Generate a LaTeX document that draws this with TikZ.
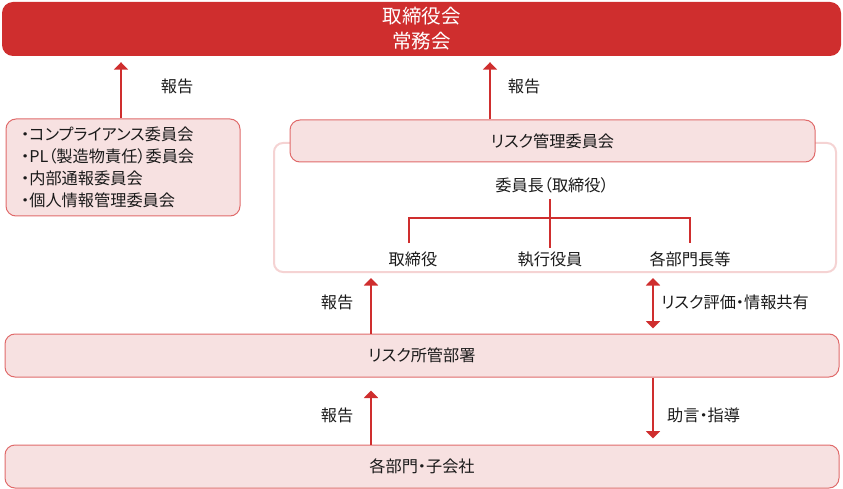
\documentclass[tikz,border=0pt]{standalone}
\usepackage{fontspec}
\setmainfont{Noto Sans CJK JP}[RawFeature=+palt]
\usetikzlibrary{arrows.meta}
\definecolor{dred}{HTML}{CF2E2E}
\definecolor{pinkfill}{HTML}{F7E1E1}
\definecolor{pinkline}{HTML}{E06B6B}
\definecolor{frameline}{HTML}{F5D3D3}
\definecolor{txt}{HTML}{1A1A1A}
\tikzset{
  lbl/.style={font=\fontsize{16.2}{19}\selectfont, text=txt, inner sep=0pt},
  pinkbox/.style={draw=pinkline, line width=1pt, fill=pinkfill, rounded corners=10pt, inner sep=0pt},
  arr/.style={draw=dred, line width=2.6pt, -{Triangle[width=14pt,length=7.5pt]}},
  darr/.style={draw=dred, line width=2.6pt, {Triangle[width=14pt,length=7.5pt]}-{Triangle[width=14pt,length=7.5pt]}},
  treeline/.style={draw=dred, line width=2.8pt}
}
\begin{document}
\begin{tikzpicture}[x=1pt,y=-1pt]
\useasboundingbox (0,0) rectangle (843,489);
% top box
\node[fill=dred, rounded corners=11pt, minimum width=839pt, minimum height=54pt, inner sep=0pt,
      text=white, align=center, font=\fontsize{19.5}{25}\selectfont] (top) at (421.5,29) {取締役会\\常務会};
% list box
\node[pinkbox, minimum width=234pt, minimum height=97pt] (list) at (123,167.5) {};
\node[lbl, anchor=north west, align=left, font=\fontsize{16.2}{22}\selectfont] (listtxt) at (21,126.5)
  {・コンプライアンス委員会\\・PL（製造物責任）委員会\\・内部通報委員会\\・個人情報管理委員会};
% frame
\node[draw=frameline, line width=2pt, fill=white, rounded corners=9pt, minimum width=562pt, minimum height=129pt, inner sep=0pt] (frame) at (555,207.5) {};
% risk management committee
\node[pinkbox, minimum width=525pt, minimum height=42pt] (rm) at (552.5,141) {};
\node[lbl] (rmtxt) at (552.5,141) {リスク管理委員会};
% chair and tree
\node[lbl] (chair) at (552,185) {委員長（取締役）};
\node[lbl] (m1) at (413,259) {取締役};
\node[lbl] (m2) at (550,259) {執行役員};
\node[lbl] (m3) at (690,259) {各部門長等};
\coordinate (stemtop) at (550,199);
\coordinate (stembot) at (550,248);
\coordinate (b1) at (409,243);
\coordinate (b3) at (690,243);
\coordinate (bar) at (550,218);
\draw[treeline] (stemtop) -- (stembot);
\draw[treeline] (b1) |- (bar) -| (b3);
% risk dept
\node[pinkbox, minimum width=834pt, minimum height=43pt] (rdept) at (422,355.5) {};
\node[lbl] (rdtxt) at (422,355.5) {リスク所管部署};
% bottom
\node[pinkbox, minimum width=834pt, minimum height=43pt] (bot) at (422,466.5) {};
\node[lbl] (bottxt) at (422,466.5) {各部門・子会社};
% arrows
\draw[arr, shorten >=6pt] ([xshift=-2pt]list.north) -- ([xshift=-2pt]list.north |- top.south);
\node[lbl] (r1) at (177,86) {報告};
\draw[arr, shorten >=6pt] ([xshift=-62.5pt]rm.north) -- ([xshift=-62.5pt]rm.north |- top.south);
\node[lbl] (r2) at (524,86) {報告};
\draw[arr, shorten >=5pt] (rdept.north -| 371,0) -- (frame.south -| 371,0);
\node[lbl] (r3) at (337,302) {報告};
\draw[darr, shorten >=5pt, shorten <=5pt] (frame.south -| 653,0) -- (rdept.north -| 653,0);
\node[lbl, anchor=west] (r4) at (661,302.5) {リスク評価・情報共有};
\draw[arr, shorten >=13pt] (bot.north -| 371,0) -- (rdept.south -| 371,0);
\node[lbl] (r5) at (337,415) {報告};
\draw[arr, shorten >=6pt] (rdept.south -| 653,0) -- (bot.north -| 653,0);
\node[lbl, anchor=west] (r6) at (667,415) {助言・指導};
\end{tikzpicture}
\end{document}
